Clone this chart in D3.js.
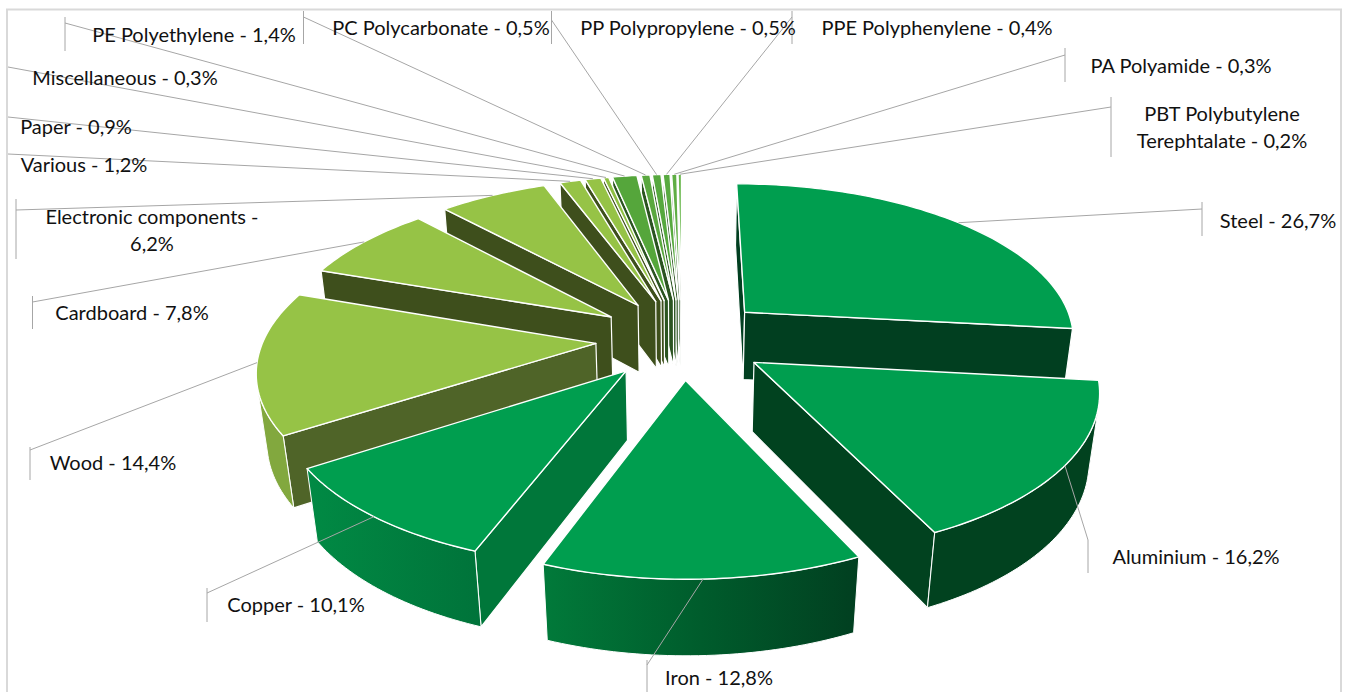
<!DOCTYPE html>
<html>
<head>
<meta charset="utf-8">
<script src="https://cdn.jsdelivr.net/npm/d3@7"></script>
<style>
  html, body { margin: 0; background: #fff; }
  svg { display: block; }
  text { font-family: Lato, sans-serif; font-size: 20px; fill: #111; }
</style>
</head>
<body>
<svg id="chart" width="1346" height="692"></svg>
<script>
var categories = ['Steel', 'Aluminium', 'Iron', 'Copper', 'Wood', 'Cardboard', 'Electronic components',
  'Various', 'Paper', 'Miscellaneous', 'PE Polyethylene', 'PC Polycarbonate', 'PP Polypropylene',
  'PPE Polyphenylene', 'PA Polyamide', 'PBT Polybutylene Terephtalate'];
var values = [26.7, 16.2, 12.8, 10.1, 14.4, 7.8, 6.2, 1.2, 0.9, 0.3, 1.4, 0.5, 0.5, 0.4, 0.3, 0.2];

var topColors = ['#009e4f', '#009e4f', '#009e4f', '#009e4f', '#96c346', '#96c346', '#96c346',
  '#96c346', '#96c346', '#8fc044', '#55a63b', '#5aa83f', '#56a83e', '#58aa40', '#5fae44', '#6ab84e'];
var sideColors = ['#013f20', '#01421f', '#01421f', '#00773a', '#4f6428', '#3e4f1c', '#3e4f1c',
  '#3e4f1c', '#3e4f1c', '#3e4f1c', '#2b5420', '#2b5420', '#2b5420', '#2b5420', '#2b5420', '#2b5420'];
var rimColors = [['#013f20', '#013f20'], ['#01421f', '#01421f'], ['#017a3a', '#005c2c', '#013f20'],
  ['#018a44', '#00733a'], ['#82a83e', '#82a83e'], ['#82a83e', '#82a83e'], ['#82a83e', '#82a83e'],
  ['#82a83e', '#82a83e'], ['#82a83e', '#82a83e'], ['#82a83e', '#82a83e'], ['#3c7a2a', '#3c7a2a'],
  ['#3c7a2a', '#3c7a2a'], ['#3c7a2a', '#3c7a2a'], ['#3c7a2a', '#3c7a2a'], ['#3c7a2a', '#3c7a2a'], ['#3c7a2a', '#3c7a2a']];

// label boxes: text centre, then leader elbow and the short bar next to the text
var labelLines = {'Electronic components': ['Electronic components -', '6,2%'],
  'PBT Polybutylene Terephtalate': ['PBT Polybutylene', 'Terephtalate - 0,2%']};
var labelX = [1278, 1196, 719, 296, 113, 132, 152, 84, 76, 125, 194, 441, 688, 937, 1181, 1222];
var labelY = [220, 556, 677, 604, 462, 312, 216, 164, 126, 77, 34, 27, 27, 27, 65, 113];
var elbowX = [1202, 1088, 647, 207, 30, 32.5, 16, 8, 8, 8, 65, 303.5, 551.5, 792, 1065, 1111];
var elbowY = [209, 540, 665, 593, 450, 302, 210, 154, 117, 67, 23, 17, 20, 17, 55, 107];
var barTop = [202, 540, 660, 588, 447, 296, 199, null, null, null, 17, 11, 11, 11, 48, 97];
var barBottom = [236, 573, 692, 622, 480, 329, 259, null, null, null, 51, 44, 44, 44, 82, 157];

// camera: pie of radius 1, everything goes through project()
var centerX = 682, centerY = 338.5, scaleX = 332, scaleY = 155;
var depthPx = 70, persp = 0.15, dropPersp = 0.025, explode = 0.26;

function project(X, Y, drop) {
  var w = 1 + persp * Y + dropPersp * drop;
  return [centerX + scaleX * X / w, centerY - scaleY * Y / w + depthPx * drop / w];
}

var pie = d3.pie().sort(null).startAngle(0).endAngle(2 * Math.PI).value(function(d) { return d; });
var arcs = pie(values);
var line = d3.line();

var svg = d3.select('#chart');
var defs = svg.append('defs');

// frame
svg.append('rect').attr('x', 7).attr('y', 9.5).attr('width', 1334).attr('height', 720)
  .attr('fill', 'none').attr('stroke', '#d9d9d9').attr('stroke-width', 2);

var slices = arcs.map(function(a, i) {
  var mid = (a.startAngle + a.endAngle) / 2;
  var ox = explode * Math.sin(mid), oy = explode * Math.cos(mid);
  var n = Math.max(2, Math.ceil((a.endAngle - a.startAngle) / 0.02));
  var angles = d3.range(n + 1).map(function(k) { return a.startAngle + (a.endAngle - a.startAngle) * k / n; });
  var rim = angles.map(function(t) { return [ox + Math.sin(t), oy + Math.cos(t)]; });
  return {i: i, mid: mid, ox: ox, oy: oy, rim: rim};
});

// far slices first
var order = slices.slice().sort(function(a, b) { return b.oy - a.oy; });

function wall(u, v) {
  return [project(u[0], u[1], 0), project(v[0], v[1], 0), project(v[0], v[1], 1), project(u[0], u[1], 1)];
}

order.forEach(function(s) {
  var g = svg.append('g').attr('class', 'slice');
  var apex = [s.ox, s.oy];
  var first = s.rim[0], last = s.rim[s.rim.length - 1];

  // radial walls, only the ones facing the camera
  [[apex, first], [last, apex]].forEach(function(e) {
    var q = wall(e[0], e[1]);
    if (d3.polygonArea(q) > 0) {
      g.append('path').attr('d', line(q) + 'Z').attr('fill', sideColors[s.i])
        .attr('stroke', '#fff').attr('stroke-width', 1.2).attr('stroke-linejoin', 'round');
    }
  });

  // outer wall: the run of rim segments that face the camera
  var vis = [];
  for (var k = 0; k < s.rim.length - 1; k++) {
    if (d3.polygonArea(wall(s.rim[k], s.rim[k + 1])) > 0) { vis.push(k); }
  }
  if (vis.length) {
    var run = s.rim.slice(vis[0], vis[vis.length - 1] + 2);
    var tops = run.map(function(p) { return project(p[0], p[1], 0); });
    var bots = run.map(function(p) { return project(p[0], p[1], 1); }).reverse();
    var poly = tops.concat(bots);
    var ext = d3.extent(poly, function(p) { return p[0]; });
    var grad = defs.append('linearGradient').attr('id', 'rim' + s.i)
      .attr('gradientUnits', 'userSpaceOnUse')
      .attr('x1', ext[0]).attr('x2', ext[1]).attr('y1', 0).attr('y2', 0);
    var stops = rimColors[s.i];
    var pos = d3.scaleLinear().domain([0, stops.length - 1]).range([0, 100]);
    stops.forEach(function(c, j) {
      grad.append('stop').attr('offset', pos(j) + '%').attr('stop-color', c);
    });
    g.append('path').attr('d', line(poly) + 'Z').attr('fill', 'url(#rim' + s.i + ')')
      .attr('stroke', '#fff').attr('stroke-width', 1).attr('stroke-linejoin', 'round');
  }

  // top face
  var face = [project(apex[0], apex[1], 0)].concat(s.rim.map(function(p) { return project(p[0], p[1], 0); }));
  g.append('path').attr('d', line(face) + 'Z').attr('fill', topColors[s.i])
    .attr('stroke', '#fff').attr('stroke-width', 1.4).attr('stroke-linejoin', 'round');
});

// leaders start on the rim at the middle of each slice
var leaderG = svg.append('g').attr('fill', 'none').attr('stroke', '#a6a6a6').attr('stroke-width', 1);
slices.forEach(function(s) {
  var start = project(s.ox + Math.sin(s.mid), s.oy + Math.cos(s.mid), 0);
  leaderG.append('path').attr('d', line([start, [elbowX[s.i], elbowY[s.i]]]));
  if (barTop[s.i] !== null) {
    leaderG.append('path').attr('d', line([[elbowX[s.i], barTop[s.i]], [elbowX[s.i], barBottom[s.i]]]));
  }
});

// labels
var labelG = svg.append('g').attr('text-anchor', 'middle');
categories.forEach(function(name, i) {
  var lines = labelLines[name] || [name + ' - ' + values[i].toFixed(1).replace('.', ',') + '%'];
  lines.forEach(function(t, j) {
    labelG.append('text').attr('x', labelX[i]).attr('y', labelY[i] + j * 27)
      .attr('dominant-baseline', 'central').text(t);
  });
});
</script>
</body>
</html>
